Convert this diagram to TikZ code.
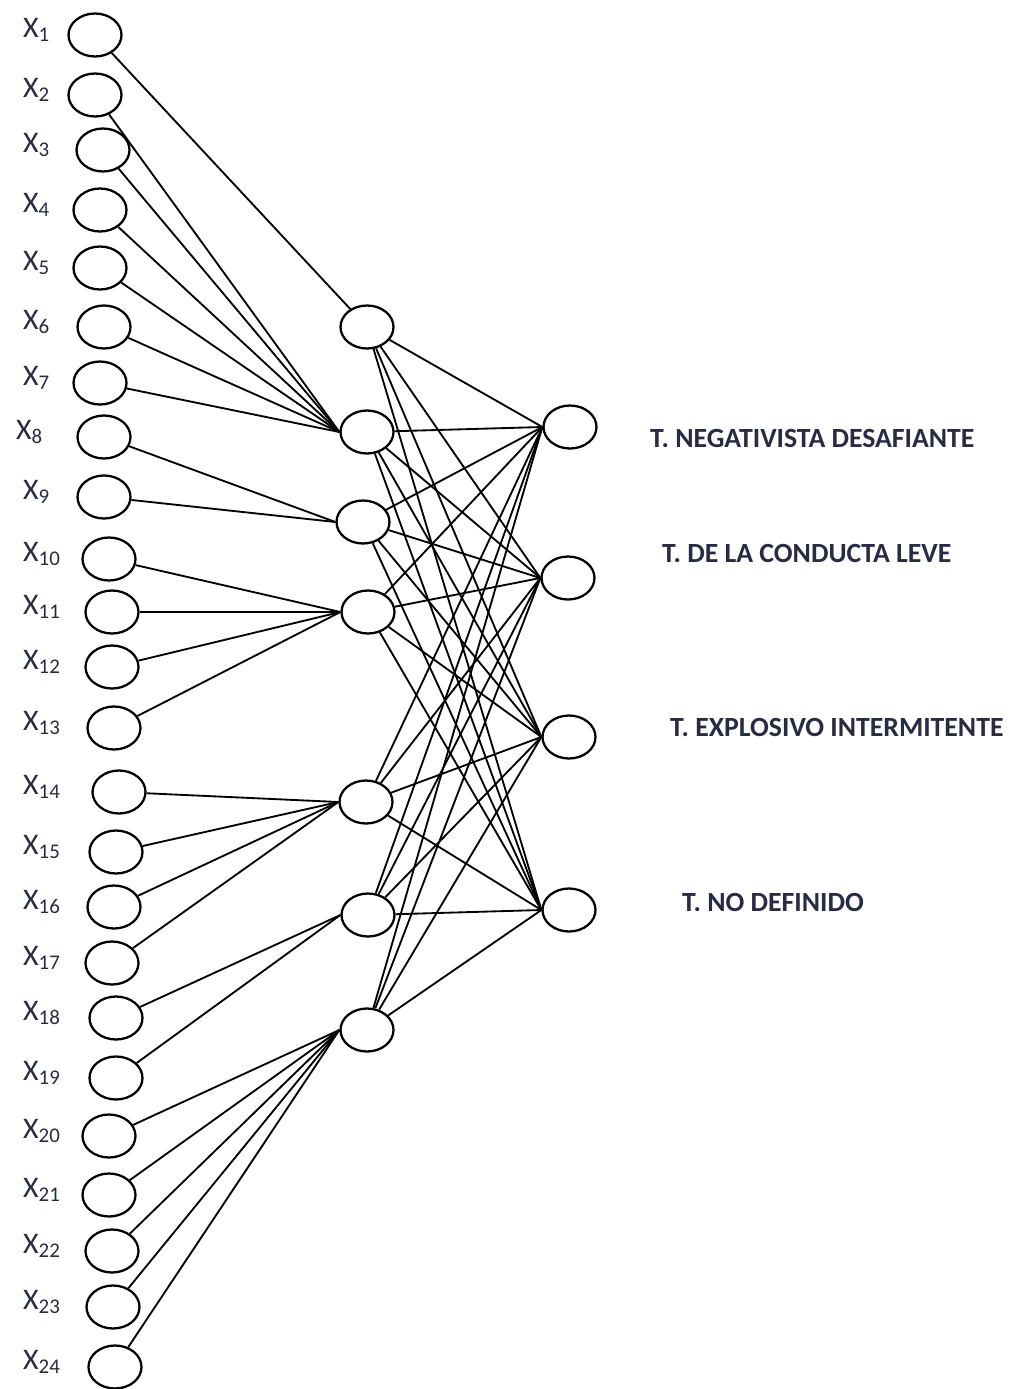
\documentclass[tikz,border=0pt]{standalone}
\usepackage{fontspec}
\setmainfont{Carlito}
\usetikzlibrary{shapes.geometric}
\definecolor{labelcol}{RGB}{40,44,66}
\tikzset{
    neuron/.style={draw, ellipse, line width=1.3pt, minimum width=1.06cm, minimum height=0.86cm, inner sep=0pt},
    synapse/.style={line width=1.05pt},
    inlabel/.style={anchor=west, text=labelcol, font=\fontsize{17}{20}\selectfont},
    outlabel/.style={anchor=west, text=labelcol, font=\bfseries\fontsize{15.8}{19}\selectfont},
}

\begin{document}
\begin{tikzpicture}[x=0.02cm, y=-0.02cm]
        %fix the page size
        \useasboundingbox (0, 0) rectangle (1008, 1389);
        %draw input neurons and label them
        \foreach \i/\lx/\xx/\yy in {1/17/95/35, 2/17/95/95, 3/17/103/150, 4/17/100/210, 5/17/100/268,
            6/17/104/327, 7/17/100/383, 8/10/104/437, 9/17/104/497, 10/17/109/559, 11/17/112/612,
            12/17/112/667, 13/17/114/728, 14/17/119/792, 15/17/116/852, 16/17/114/907, 17/17/112/963,
            18/17/116/1018, 19/17/116/1078, 20/17/109/1136, 21/17/109/1195, 22/17/112/1251,
            23/17/113/1307, 24/17/115/1367} {
            \node[neuron] (x\i) at (\xx, \yy) {};
            \node[inlabel] (lx\i) at (\lx, \yy - 5) {X\textsubscript{\i}};
        }
        %draw hidden neurons
        \node[neuron] (h1) at (367, 327) {};
        \node[neuron] (h2) at (367, 432) {};
        \node[neuron] (h3) at (363, 522) {};
        \node[neuron] (h4) at (368, 612) {};
        \node[neuron] (h5) at (366, 802) {};
        \node[neuron] (h6) at (368, 915) {};
        \node[neuron] (h7) at (367, 1030) {};
        %draw output neurons
        \node[neuron] (o1) at (570, 427) {};
        \node[neuron] (o2) at (568, 578) {};
        \node[neuron] (o3) at (569, 737) {};
        \node[neuron] (o4) at (569, 910) {};
        %label output neurons
        \node[outlabel] (lo1) at (644, 438) {T. NEGATIVISTA DESAFIANTE};
        \node[outlabel] (lo2) at (656, 553) {T. DE LA CONDUCTA LEVE};
        \node[outlabel] (lo3) at (664, 727) {T. EXPLOSIVO INTERMITENTE};
        \node[outlabel] (lo4) at (676, 902) {T. NO DEFINIDO};
        %connect inputs to hidden neurons
        \draw[synapse] (x1) -- (h1);
        \foreach \i in {2,...,7} \draw[synapse] (x\i) -- (h2.west);
        \foreach \i in {8,9} \draw[synapse] (x\i) -- (h3.west);
        \foreach \i in {10,...,13} \draw[synapse] (x\i) -- (h4.west);
        \foreach \i in {14,...,17} \draw[synapse] (x\i) -- (h5.west);
        \foreach \i in {18,19} \draw[synapse] (x\i) -- (h6.west);
        \foreach \i in {20,...,24} \draw[synapse] (x\i) -- (h7.west);
        %connect hidden neurons to outputs
        \foreach \h in {1,...,7}
            \foreach \o in {1,...,4}
                \draw[synapse] (h\h) -- (o\o.west);
    \end{tikzpicture}
\end{document}
